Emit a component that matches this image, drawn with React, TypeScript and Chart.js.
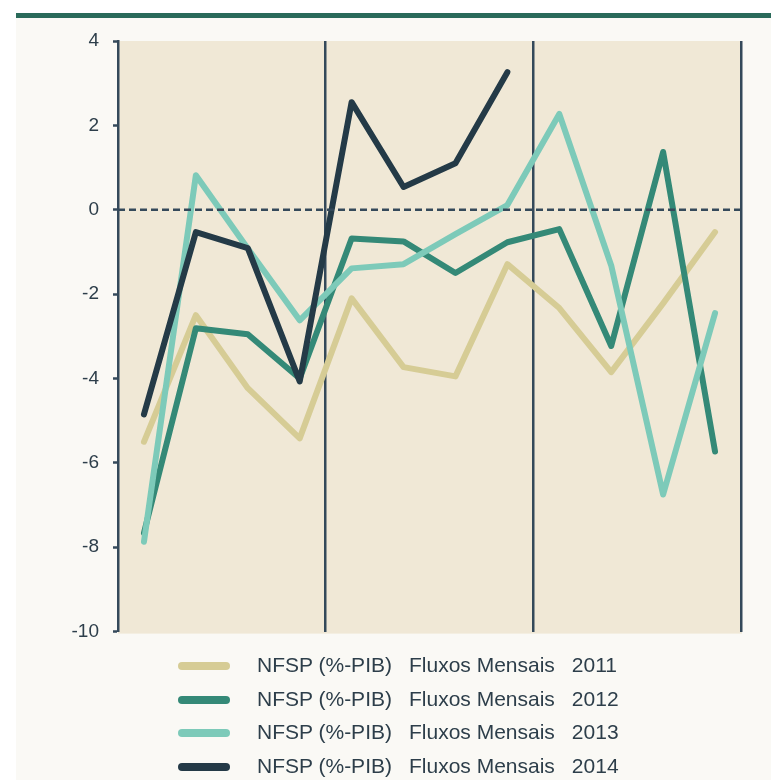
import React, { useEffect, useRef } from "react";
import { Chart, registerables } from "chart.js";

Chart.register(...registerables);

const months = ["Jan", "Fev", "Mar", "Abr", "Mai", "Jun", "Jul", "Ago", "Set", "Out", "Nov", "Dez"];
const nfsp2011 = [-5.5, -2.5, -4.23, -5.42, -2.1, -3.73, -3.95, -1.29, -2.33, -3.85, -2.22, -0.53];
const nfsp2012 = [-7.66, -2.81, -2.95, -4.0, -0.68, -0.75, -1.5, -0.77, -0.46, -3.23, 1.37, -5.73];
const nfsp2013 = [-7.87, 0.82, -0.92, -2.62, -1.39, -1.29, -0.58, 0.11, 2.27, -1.32, -6.75, -2.45];
const nfsp2014 = [-4.85, -0.53, -0.91, -4.07, 2.55, 0.54, 1.1, 3.26, null, null, null, null];
const seriesLabels = [
  "NFSP (%-PIB)  Fluxos Mensais  2011",
  "NFSP (%-PIB)  Fluxos Mensais  2012",
  "NFSP (%-PIB)  Fluxos Mensais  2013",
  "NFSP (%-PIB)  Fluxos Mensais  2014",
];
const seriesColors = ["#D6CC95", "#348977", "#7DCAB9", "#243A47"];
const yMin = -10;
const yMax = 4;
const yStep = 2;

const AXIS = "#34495A";
const TEXT = "#2D3E4A";
const FONT = "'Liberation Sans', Arial, sans-serif";

export default function App() {
  const ref = useRef<HTMLCanvasElement | null>(null);

  useEffect(() => {
    if (!ref.current) return;
    const series = [nfsp2011, nfsp2012, nfsp2013, nfsp2014];
    const bgPlugin = {
      id: "plotBg",
      beforeDraw(chart: any) {
        const { ctx, chartArea } = chart;
        ctx.save();
        ctx.fillStyle = "#F0E8D6";
        ctx.fillRect(chartArea.left, chartArea.top, chartArea.right - chartArea.left + 1, chartArea.bottom - chartArea.top + 2);
        ctx.restore();
      },
    };
    const zeroPlugin = {
      id: "zeroLine",
      afterDatasetsDraw(chart: any) {
        const { ctx, chartArea, scales } = chart;
        const y = scales.y.getPixelForValue(0);
        ctx.save();
        ctx.strokeStyle = AXIS;
        ctx.lineWidth = 2.5;
        ctx.setLineDash([7, 4]);
        ctx.beginPath();
        ctx.moveTo(chartArea.left, y);
        ctx.lineTo(chartArea.right + 1, y);
        ctx.stroke();
        ctx.restore();
      },
    };
    const chart = new Chart(ref.current, {
      type: "line",
      data: {
        labels: months,
        datasets: series.map((d, i) => ({
          label: seriesLabels[i],
          data: d,
          borderColor: seriesColors[i],
          backgroundColor: seriesColors[i],
          borderWidth: 6,
          pointRadius: 0,
          pointHoverRadius: 0,
          tension: 0,
          fill: false,
          spanGaps: false,
          borderCapStyle: "round",
          borderJoinStyle: "round",
          order: 4 - i,
        })),
      },
      options: {
        animation: false,
        responsive: true,
        maintainAspectRatio: false,
        layout: { padding: { top: 41, bottom: 14, left: 0, right: 30 } },
        plugins: {
          legend: { display: false },
          tooltip: { enabled: false },
          title: { display: false },
        },
        scales: {
          x: {
            type: "category",
            offset: true,
            ticks: { display: false },
            border: { display: false },
            grid: {
              offset: true,
              drawTicks: false,
              lineWidth: 2.5,
              color: (ctx: any) => {
                if (ctx.type !== "tick") return AXIS;
                return ctx.index > 0 && ctx.index % 4 === 0 ? AXIS : "rgba(0,0,0,0)";
              },
            },
          },
          y: {
            min: yMin,
            max: yMax,
            afterFit: (scale: any) => {
              scale.width = 118;
            },
            ticks: {
              stepSize: yStep,
              padding: 14,
              color: TEXT,
              font: { family: FONT, size: 19 },
            },
            border: { display: true, color: AXIS, width: 2.5 },
            grid: {
              drawOnChartArea: false,
              drawTicks: true,
              tickLength: 5,
              tickColor: AXIS,
              tickWidth: 2.5,
            },
          },
        },
      },
      plugins: [bgPlugin, zeroPlugin],
    });
    return () => chart.destroy();
  }, []);

  return (
    <div
      style={{
        position: "absolute",
        left: 0,
        top: 0,
        width: 771,
        height: 780,
        background: "#FFFFFF",
        overflow: "hidden",
        fontFamily: FONT,
      }}
    >
      <div style={{ position: "absolute", left: 16, top: 18, right: 0, bottom: 0, background: "#FAF9F5" }} />
      <div style={{ position: "absolute", left: 16, top: 13, right: 0, height: 5, background: "#2A6A5A" }} />
      <div style={{ position: "absolute", left: 0, top: 0, width: 771, height: 657 }}>
        <canvas ref={ref} />
      </div>
      <div style={{ position: "absolute", left: 178, top: 649, width: 560 }}>
        {seriesLabels.map((lab, i) => {
          const parts = lab.split("  ");
          return (
            <div key={lab} style={{ display: "flex", alignItems: "center", height: 33.7 }}>
              <div style={{ width: 52, height: 8, borderRadius: 4, background: seriesColors[i] }} />
              <div style={{ marginLeft: 27, fontSize: 21, color: TEXT, whiteSpace: "pre", lineHeight: "24px", marginTop: -2 }}>
                <span>{parts[0]}</span>
                <span style={{ marginLeft: 17 }}>{parts[1]}</span>
                <span style={{ marginLeft: 17 }}>{parts[2]}</span>
              </div>
            </div>
          );
        })}
      </div>
    </div>
  );
}
